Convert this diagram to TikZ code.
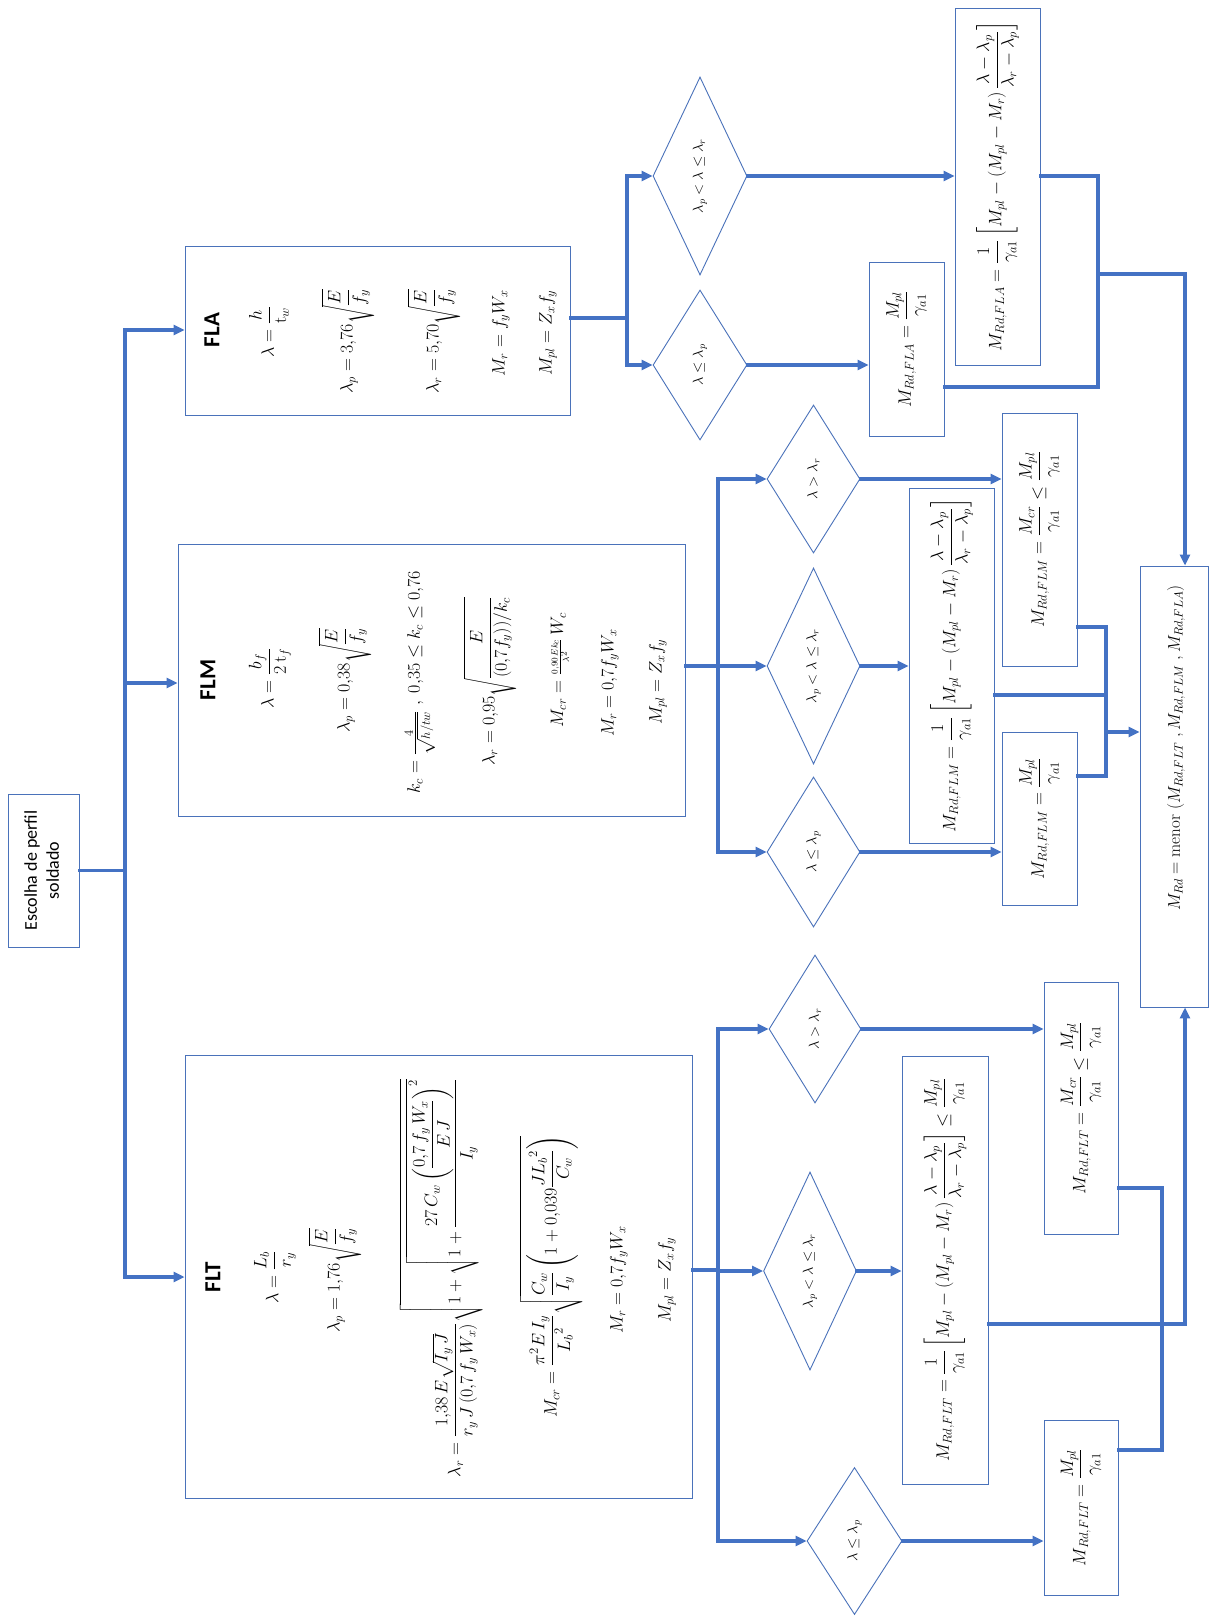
\RequirePackage{fix-cm}
\documentclass[tikz,border=0pt]{standalone}
\usepackage{amsmath}
\usepackage[no-math]{fontspec}
\newfontfamily\calibri{Carlito}
\usetikzlibrary{shapes.geometric,arrows.meta,calc}
\definecolor{ob}{RGB}{68,114,196}
\definecolor{bd}{RGB}{74,114,186}
\newcommand{\rotT}[1]{\rotatebox{90}{#1}}
\begin{document}
\begin{tikzpicture}[x=1pt,y=-1pt,
 box/.style={draw=bd,line width=0.9pt,rectangle,inner sep=0pt,fill=white},
 dia/.style={draw=bd,line width=0.9pt,diamond,aspect=0.5,inner sep=0pt,font=\fontsize{14.5}{16}\selectfont},
 res/.style={box,font=\fontsize{18}{21}\selectfont},
 conn/.style={draw=ob,line width=3.2pt,line cap=rect},
 arr/.style={conn,-{Triangle[length=11pt,width=10pt]}},
 mt/.style={rotate=90,inner sep=0pt,font=\fontsize{18}{21}\selectfont},
 hd/.style={rotate=90,inner sep=0pt,font=\calibri\bfseries\fontsize{23}{26}\selectfont}]
\fill[white] (0,0) rectangle (1219,1616);
\useasboundingbox (0,0) rectangle (1219,1616);

% start
\node[box,minimum width=71pt,minimum height=153pt] (start) at (43.5,870.5)
 {\rotT{\calibri\fontsize{18}{22}\selectfont\begin{tabular}{@{}c@{}}Escolha de perfil\\ soldado\end{tabular}}};

% FLA
\node[box,minimum width=385pt,minimum height=169pt] (fla) at (377.5,330.5) {};
\node[hd] (flaT) at (212,330) {FLA};
\node[mt] (fla1) at (269,332) {$\lambda = \dfrac{h}{\mathrm{t}_w}$};
\node[mt] (fla2) at (348,341) {$\lambda_p = 3{,}76\sqrt{\dfrac{E}{f_y}}$};
\node[mt] (fla3) at (434,341) {$\lambda_r = 5{,}70\sqrt{\dfrac{E}{f_y}}$};
\node[mt] (fla4) at (501,333) {$M_r = f_y W_x$};
\node[mt] (fla5) at (548,333) {$M_{pl} = Z_x f_y$};

% FLM
\node[box,minimum width=507pt,minimum height=272pt] (flm) at (431.5,680) {};
\node[hd] (flmT) at (208,680) {FLM};
\node[mt] (flm1) at (270,678) {$\lambda = \dfrac{b_f}{2\,\mathrm{t}_f}$};
\node[mt] (flm2) at (345,680) {$\lambda_p = 0{,}38\sqrt{\dfrac{E}{f_y}}$};
\node[mt] (flm3) at (420,682) {$k_c = \frac{4}{\sqrt{h/tw}}\;,\; 0{,}35 \le k_c \le 0{,}76$};
\node[mt] (flm4) at (490,681) {$\lambda_r = 0{,}95\sqrt{\dfrac{E}{(0{,}7f_y))/k_c}}$};
\node[mt] (flm5) at (560,670) {$M_{cr} = {\scriptstyle\frac{0{,}90\,Ek_c}{\lambda^2}}\,W_c$};
\node[mt] (flm6) at (610,683) {$M_r = 0{,}7f_y W_x$};
\node[mt] (flm7) at (658,682) {$M_{pl} = Z_x f_y$};

% FLT
\node[box,minimum width=507pt,minimum height=443pt] (flt) at (438.5,1276.5) {};
\node[hd] (fltT) at (213,1277) {FLT};
\node[mt] (flt1) at (275,1277) {$\lambda = \dfrac{L_b}{r_y}$};
\node[mt] (flt2) at (335,1280) {$\lambda_p = 1{,}76\sqrt{\dfrac{E}{f_y}}$};
\node[mt] (flt3) at (441,1278) {$\lambda_r = \dfrac{1{,}38\,E\sqrt{I_y\,J}}{r_y\,J\,(0{,}7\,f_y\,W_x)}\sqrt{1+\sqrt{1+\dfrac{27\,C_w\left(\dfrac{0{,}7\,f_y\,W_x}{E\,J}\right)^{2}}{I_y}}}$};
\node[mt] (flt4) at (551,1277) {$M_{cr} = \dfrac{\pi^2 E\,I_y}{{L_b}^2}\sqrt{\dfrac{C_w}{I_y}\left(1+0{,}039\dfrac{J{L_b}^2}{C_w}\right)}$};
\node[mt] (flt5) at (619,1280) {$M_r = 0{,}7f_y W_x$};
\node[mt] (flt6) at (667,1280) {$M_{pl} = Z_x f_y$};

% FLA decisions and results
\node[dia,minimum width=94pt,minimum height=198pt] (dA2) at (700,176) {\rotT{$\lambda_p < \lambda \le \lambda_r$}};
\node[dia,minimum width=94pt,minimum height=150pt] (dA1) at (700,365) {\rotT{$\lambda \le \lambda_p$}};
\node[res,minimum width=85pt,minimum height=357pt] (rA2) at (997.5,186.5)
 {\rotT{$M_{Rd,FLA} = \dfrac{1}{\gamma_{a1}}\left[M_{pl} - \left(M_{pl} - M_r\right)\dfrac{\lambda-\lambda_p}{\lambda_r-\lambda_p}\right]$}};
\node[res,minimum width=75pt,minimum height=174pt] (rA1) at (906.5,349)
 {\rotT{$M_{Rd,FLA} = \dfrac{M_{pl}}{\gamma_{a1}}$}};

% FLM decisions and results
\node[dia,minimum width=93pt,minimum height=148pt] (dM3) at (813.5,479) {\rotT{$\lambda > \lambda_r$}};
\node[dia,minimum width=93pt,minimum height=196pt] (dM2) at (813.5,666) {\rotT{$\lambda_p < \lambda \le \lambda_r$}};
\node[dia,minimum width=93pt,minimum height=150pt] (dM1) at (813.5,852) {\rotT{$\lambda \le \lambda_p$}};
\node[res,minimum width=75pt,minimum height=253pt] (rM3) at (1039.5,539.5)
 {\rotT{$M_{Rd,FLM} = \dfrac{M_{cr}}{\gamma_{a1}} \le \dfrac{M_{pl}}{\gamma_{a1}}$}};
\node[res,minimum width=85pt,minimum height=355pt] (rM2) at (951.5,665.5)
 {\rotT{$M_{Rd,FLM} = \dfrac{1}{\gamma_{a1}}\left[M_{pl} - \left(M_{pl} - M_r\right)\dfrac{\lambda-\lambda_p}{\lambda_r-\lambda_p}\right]$}};
\node[res,minimum width=75pt,minimum height=173pt] (rM1) at (1039.5,818.5)
 {\rotT{$M_{Rd,FLM} = \dfrac{M_{pl}}{\gamma_{a1}}$}};

% FLT decisions and results
\node[dia,minimum width=92pt,minimum height=148pt] (dT3) at (815,1029) {\rotT{$\lambda > \lambda_r$}};
\node[dia,minimum width=93pt,minimum height=198pt] (dT2) at (810,1271) {\rotT{$\lambda_p < \lambda \le \lambda_r$}};
\node[dia,minimum width=95pt,minimum height=147pt] (dT1) at (854.5,1541) {\rotT{$\lambda \le \lambda_p$}};
\node[res,minimum width=74pt,minimum height=252pt] (rT3) at (1081,1108)
 {\rotT{$M_{Rd,FLT} = \dfrac{M_{cr}}{\gamma_{a1}} \le \dfrac{M_{pl}}{\gamma_{a1}}$}};
\node[res,minimum width=86pt,minimum height=428pt] (rT2) at (945,1270)
 {\rotT{$M_{Rd,FLT} = \dfrac{1}{\gamma_{a1}}\left[M_{pl} - \left(M_{pl} - M_r\right)\dfrac{\lambda-\lambda_p}{\lambda_r-\lambda_p}\right] \le \dfrac{M_{pl}}{\gamma_{a1}}$}};
\node[res,minimum width=74pt,minimum height=175pt] (rT1) at (1081,1507.5)
 {\rotT{$M_{Rd,FLT} = \dfrac{M_{pl}}{\gamma_{a1}}$}};

% final
\node[box,minimum width=68pt,minimum height=441pt] (fin) at (1174,786.5) {};
\node[mt,font=\fontsize{17}{20}\selectfont] (finT) at (1176,748)
 {$M_{Rd} = \mathrm{menor}\;(M_{Rd,FLT}\;,M_{Rd,FLM}\;,M_{Rd,FLA})$};

% ---- connectors: trunk
\coordinate (tA) at (125,330);
\coordinate (tM) at (125,683);
\coordinate (tT) at (125,1277);
\draw[conn] (start.east) -- (start.east -| tA);
\draw[conn] (tA) -- (tT);
\draw[arr] (tA) -- (tA -| fla.west);
\draw[arr] (tM) -- (tM -| flm.west);
\draw[arr] (tT) -- (tT -| flt.west);

% FLA branch
\coordinate (jA) at (627,318);
\draw[conn] (jA -| fla.east) -- (jA);
\draw[conn] (jA |- dA2) -- (jA |- dA1);
\draw[arr] (jA |- dA2) -- (dA2.west);
\draw[arr] (jA |- dA1) -- (dA1.west);
\draw[arr] (dA2.east) -- (dA2.east -| rA2.west);
\draw[arr] (dA1.east) -- (dA1.east -| rA1.west);
\coordinate (kA2) at (1098,387);
\coordinate (kA) at (1098,274);
\coordinate (fA) at (1185,274);
\draw[conn] (dA2.east -| rA2.east) -- (dA2.east -| kA2) -- (kA2) -- (kA2 -| rA1.east);
\draw[arr] (kA) -- (fA) -- (fA |- fin.north);

% FLM branch
\coordinate (jM) at (718,666);
\draw[conn] (jM -| flm.east) -- (jM);
\draw[conn] (jM |- dM3) -- (jM |- dM1);
\foreach \d/\r in {dM3/rM3,dM2/rM2,dM1/rM1}{
  \draw[arr] (jM |- \d) -- (\d.west);
  \draw[arr] (\d.east) -- (\d.east -| \r.west);
}
\coordinate (kM1) at (1106,627);
\coordinate (kM2) at (1106,776);
\coordinate (kM3) at (1106,695);
\coordinate (kM) at (1106,732);
\draw[conn] (kM1 -| rM3.east) -- (kM1) -- (kM2) -- (kM2 -| rM1.east);
\draw[conn] (kM3 -| rM2.east) -- (kM3);
\draw[arr] (kM) -- (kM -| fin.west);

% FLT branch
\coordinate (jT) at (718,1270);
\draw[conn] (jT -| flt.east) -- (jT);
\draw[conn] (jT |- dT3) -- (jT |- dT1);
\foreach \d/\r in {dT3/rT3,dT2/rT2,dT1/rT1}{
  \draw[arr] (jT |- \d) -- (\d.west);
  \draw[arr] (\d.east) -- (\d.east -| \r.west);
}
\coordinate (kT1) at (1162,1188);
\coordinate (kT2) at (1162,1450);
\draw[conn] (kT1 -| rT3.east) -- (kT1) -- (kT2) -- (kT2 -| rT1.east);
\coordinate (fT) at (1185,1324);
\draw[arr] (fT -| rT2.east) -- (fT) -- (fT |- fin.south);
\end{tikzpicture}
\end{document}
